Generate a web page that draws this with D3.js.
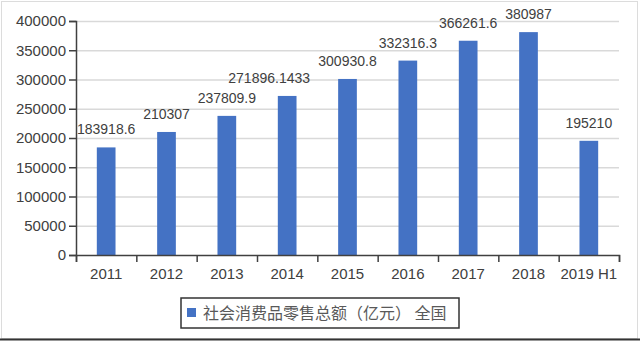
<!DOCTYPE html>
<html>
<head>
<meta charset="utf-8">
<script src="https://cdn.jsdelivr.net/npm/d3@7"></script>
<style>
  html, body { margin: 0; padding: 0; background: #fff; }
  svg { display: block; }
</style>
</head>
<body>
<svg id="chart" width="640" height="341"></svg>
<script>
// Retail sales of consumer goods, nationwide (100 million yuan)
const categories = ["2011", "2012", "2013", "2014", "2015", "2016", "2017", "2018", "2019 H1"];
const values = [183918.6, 210307, 237809.9, 271896.1433, 300930.8, 332316.3, 366261.6, 380987, 195210];
const valueLabels = ["183918.6", "210307", "237809.9", "271896.1433", "300930.8", "332316.3", "366261.6", "380987", "195210"];
const yTicks = [0, 50000, 100000, 150000, 200000, 250000, 300000, 350000, 400000];
const legendLabel = "社会消费品零售总额（亿元） 全国";

const W = 640, H = 341;
const plot = { left: 76, right: 619, top: 21, bottom: 255 };
const numFont = "'Liberation Sans', Arial, sans-serif";
const cjkFont = "'Noto Sans CJK SC', sans-serif";
const barColor = "#4472c4";
const textColor = "#404040";

const svg = d3.select("#chart");

// frame
svg.append("rect")
  .attr("x", 1.5).attr("y", 1.5)
  .attr("width", W - 4).attr("height", H - 4)
  .attr("fill", "#fff").attr("stroke", "#dcdcdc").attr("stroke-width", 1);
svg.append("line")
  .attr("x1", 0).attr("x2", W).attr("y1", 339.5).attr("y2", 339.5)
  .attr("stroke", "#333").attr("stroke-width", 2);

const x = d3.scaleBand()
  .domain(categories)
  .range([plot.left, plot.right])
  .paddingInner(0.69)
  .paddingOuter(0.345);

const y = d3.scaleLinear()
  .domain([0, 400000])
  .range([plot.bottom, plot.top]);

// horizontal gridlines
svg.append("g")
  .attr("transform", `translate(${plot.left},0)`)
  .call(d3.axisLeft(y).tickValues(yTicks.slice(1)).tickSize(-(plot.right - plot.left)).tickFormat(""))
  .call(g => g.select(".domain").remove())
  .call(g => g.selectAll("line").attr("stroke", "#d9d9d9").attr("stroke-width", 1.5));

// bars
svg.append("g")
  .selectAll("rect")
  .data(values)
  .join("rect")
  .attr("x", (d, i) => x(categories[i]))
  .attr("y", d => y(d))
  .attr("width", x.bandwidth())
  .attr("height", d => y(0) - y(d))
  .attr("fill", barColor);

// value labels (the long 2014 label is nudged left to clear its neighbour)
const labelShift = i => (i === 3 ? -18 : 0);
svg.append("g")
  .selectAll("text")
  .data(values)
  .join("text")
  .attr("x", (d, i) => x(categories[i]) + x.bandwidth() / 2 + labelShift(i))
  .attr("y", d => y(d) - 13)
  .attr("text-anchor", "middle")
  .attr("font-family", numFont)
  .attr("font-size", 14)
  .attr("fill", textColor)
  .text((d, i) => valueLabels[i]);

// y axis
svg.append("g")
  .attr("transform", `translate(${plot.left},0)`)
  .call(d3.axisLeft(y).tickValues(yTicks).tickSize(7).tickPadding(3).tickFormat(d3.format("d")))
  .call(g => g.select(".domain").attr("stroke", "#404040").attr("stroke-width", 1.5))
  .call(g => g.selectAll(".tick line").attr("stroke", "#404040").attr("stroke-width", 1.5))
  .call(g => g.selectAll(".tick text")
    .attr("font-family", numFont).attr("font-size", 15).attr("fill", textColor));

// x axis: labels centred on bands, tick marks on band boundaries
const bounds = d3.scaleLinear().domain([0, categories.length]).range([plot.left, plot.right]);
svg.append("g")
  .attr("transform", `translate(0,${plot.bottom})`)
  .call(d3.axisBottom(bounds).ticks(categories.length).tickSize(7).tickFormat(""))
  .call(g => g.select(".domain").attr("stroke", "#404040").attr("stroke-width", 1.5))
  .call(g => g.selectAll(".tick line").attr("stroke", "#404040").attr("stroke-width", 1.5));

svg.append("g")
  .attr("transform", `translate(0,${plot.bottom})`)
  .call(d3.axisBottom(x).tickSize(0).tickPadding(13))
  .call(g => g.select(".domain").remove())
  .call(g => g.selectAll(".tick text")
    .attr("font-family", numFont).attr("font-size", 15).attr("fill", textColor));

// legend
const legend = svg.append("g");
legend.append("rect")
  .attr("x", 181).attr("y", 298)
  .attr("width", 278).attr("height", 30)
  .attr("fill", "#fff").attr("stroke", "#333").attr("stroke-width", 1.5);
legend.append("rect")
  .attr("x", 187).attr("y", 308)
  .attr("width", 9).attr("height", 9)
  .attr("fill", barColor);
legend.append("text")
  .attr("x", 203).attr("y", 319)
  .attr("font-family", cjkFont)
  .attr("font-size", 16)
  .attr("fill", "#595959")
  .attr("xml:space", "preserve")
  .style("white-space", "pre")
  .text(legendLabel);
</script>
</body>
</html>
